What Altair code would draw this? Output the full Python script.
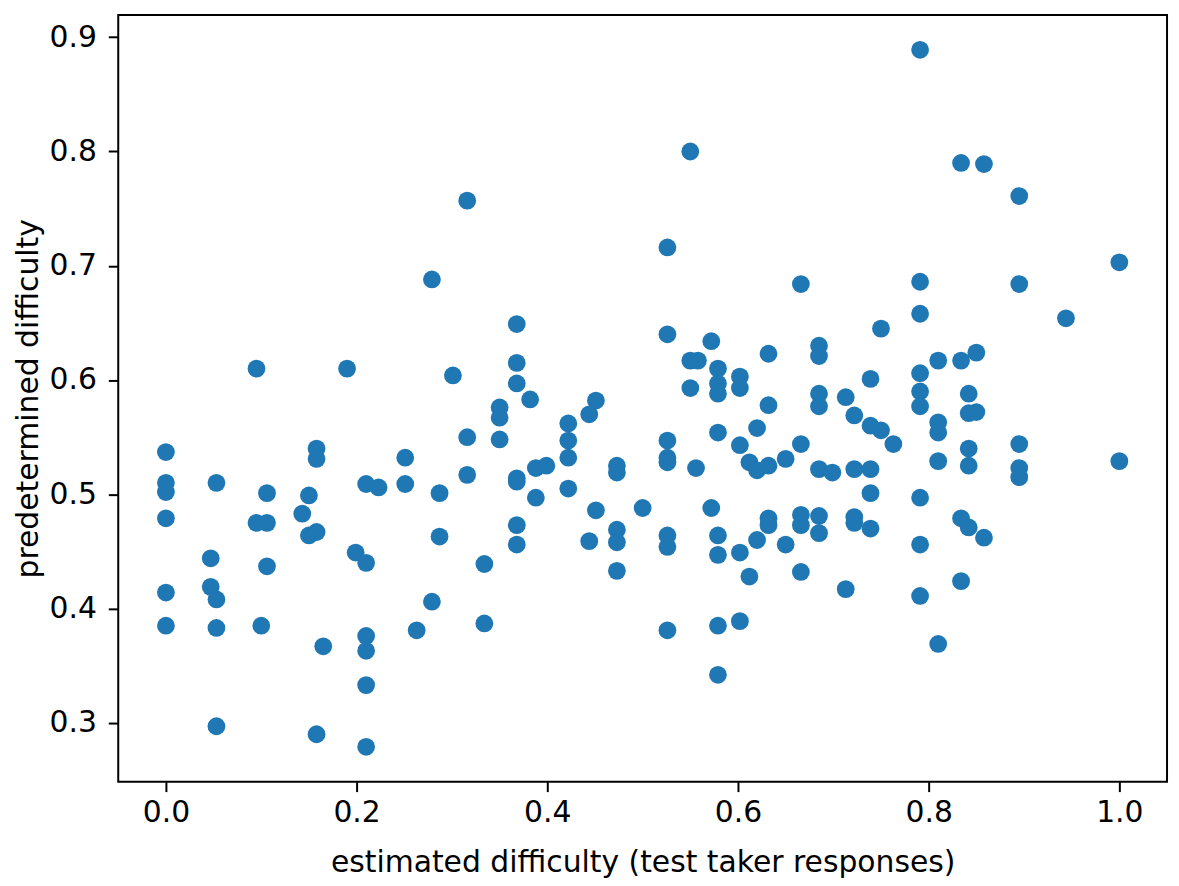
import altair as alt
import pandas as pd

# estimated difficulty (x) grouped with predetermined difficulty values (y)
x_vals = [
    0.0, 0.0, 0.0, 0.0, 0.0, 0.0,
    0.047, 0.047,
    0.053, 0.053, 0.053, 0.053,
    0.095, 0.095,
    0.100,
    0.106, 0.106, 0.106,
    0.143,
    0.150, 0.150,
    0.158, 0.158, 0.158, 0.158,
    0.165,
    0.190,
    0.199,
    0.210, 0.210, 0.210, 0.210, 0.210, 0.210,
    0.223,
    0.251, 0.251,
    0.263,
    0.279, 0.279,
    0.287, 0.287,
    0.301,
    0.316, 0.316, 0.316,
    0.334, 0.334,
    0.350, 0.350, 0.350,
    0.368, 0.368, 0.368, 0.368, 0.368, 0.368, 0.368,
    0.382,
    0.388, 0.388,
    0.399,
    0.422, 0.422, 0.422, 0.422,
    0.444, 0.444,
    0.451, 0.451,
    0.473, 0.473, 0.473, 0.473, 0.473,
    0.500,
    0.526, 0.526, 0.526, 0.526, 0.526, 0.526, 0.526, 0.526,
    0.550, 0.550, 0.550,
    0.558,
    0.556,
    0.572, 0.572,
    0.579, 0.579, 0.579, 0.579, 0.579, 0.579, 0.579, 0.579,
    0.602, 0.602, 0.602, 0.602, 0.602,
    0.612, 0.612,
    0.620, 0.620, 0.620,
    0.632, 0.632, 0.632, 0.632, 0.632,
    0.650, 0.650,
    0.666, 0.666, 0.666, 0.666, 0.666,
    0.685, 0.685, 0.685, 0.685, 0.685, 0.685, 0.685,
    0.699,
    0.713, 0.713,
    0.722, 0.722, 0.722, 0.722,
    0.739, 0.739, 0.739, 0.739, 0.739,
    0.750, 0.750,
    0.763,
    0.791, 0.791, 0.791, 0.791, 0.791, 0.791, 0.791, 0.791, 0.791,
    0.810, 0.810, 0.810, 0.810, 0.810,
    0.834, 0.834, 0.834, 0.834,
    0.842, 0.842, 0.842, 0.842, 0.842,
    0.850, 0.850,
    0.858, 0.858,
    0.895, 0.895, 0.895, 0.895, 0.895,
    0.944,
    1.000, 1.000,
]

y_vals = [
    0.537, 0.510, 0.502, 0.479, 0.414, 0.385,
    0.444, 0.419,
    0.510, 0.408, 0.383, 0.297,
    0.610, 0.475,
    0.385,
    0.501, 0.475, 0.437,
    0.483,
    0.499, 0.464,
    0.540, 0.531, 0.467, 0.290,
    0.367,
    0.610,
    0.449,
    0.509, 0.440, 0.376, 0.363, 0.333, 0.279,
    0.506,
    0.532, 0.509,
    0.381,
    0.688, 0.406,
    0.501, 0.463,
    0.604,
    0.757, 0.550, 0.517,
    0.439, 0.387,
    0.576, 0.567, 0.548,
    0.649, 0.615, 0.597, 0.514, 0.511, 0.473, 0.456,
    0.583,
    0.523, 0.497,
    0.525,
    0.562, 0.547, 0.532, 0.505,
    0.570, 0.459,
    0.582, 0.486,
    0.525, 0.519, 0.469, 0.458, 0.433,
    0.488,
    0.716, 0.640, 0.547, 0.532, 0.528, 0.464, 0.454, 0.381,
    0.800, 0.617, 0.593,
    0.617,
    0.523,
    0.634, 0.488,
    0.610, 0.597, 0.588, 0.554, 0.464, 0.447, 0.385, 0.342,
    0.603, 0.593, 0.543, 0.449, 0.389,
    0.528, 0.428,
    0.558, 0.521, 0.460,
    0.623, 0.578, 0.525, 0.479, 0.473,
    0.531, 0.456,
    0.684, 0.544, 0.482, 0.473, 0.432,
    0.630, 0.621, 0.588, 0.577, 0.522, 0.481, 0.466,
    0.519,
    0.585, 0.417,
    0.569, 0.522, 0.480, 0.475,
    0.601, 0.560, 0.522, 0.501, 0.470,
    0.645, 0.556,
    0.544,
    0.889, 0.686, 0.658, 0.606, 0.590, 0.577, 0.497, 0.456, 0.411,
    0.617, 0.563, 0.554, 0.529, 0.369,
    0.790, 0.617, 0.479, 0.424,
    0.588, 0.571, 0.540, 0.525, 0.471,
    0.624, 0.572,
    0.789, 0.462,
    0.761, 0.684, 0.544, 0.523, 0.515,
    0.654,
    0.703, 0.529,
]

x_ticks = [0.0, 0.2, 0.4, 0.6, 0.8, 1.0]
y_ticks = [0.3, 0.4, 0.5, 0.6, 0.7, 0.8, 0.9]

df = pd.DataFrame({"est": x_vals, "pre": y_vals})

FONT = "DejaVu Sans"

chart = (
    alt.Chart(df)
    .mark_circle(size=320, opacity=1, color="#1f77b4")
    .encode(
        x=alt.X(
            "est:Q",
            title="estimated difficulty (test taker responses)",
            scale=alt.Scale(domain=[-0.05, 1.05], nice=False, zero=False),
            axis=alt.Axis(values=x_ticks, format=".1f", titlePadding=20),
        ),
        y=alt.Y(
            "pre:Q",
            title="predetermined difficulty",
            scale=alt.Scale(domain=[0.2485, 0.9195], nice=False, zero=False),
            axis=alt.Axis(values=y_ticks, format=".1f", titlePadding=6, labelPadding=12),
        ),
    )
    .properties(
        width=1056,
        height=772,
        autosize=alt.AutoSizeParams(type="none"),
        padding={"left": 111, "top": 4, "right": 4, "bottom": 94},
    )
    .configure_view(stroke="black", strokeWidth=2)
    .configure_axis(
        grid=False,
        domain=False,
        ticks=True,
        tickColor="black",
        tickWidth=2,
        tickSize=10,
        labelPadding=6,
        labelFont=FONT,
        labelFontSize=30,
        labelColor="black",
        titleFont=FONT,
        titleFontSize=30,
        titleFontWeight="normal",
        titleColor="black",
    )
)

chart.save("out.html", embed_options={"renderer": "svg", "actions": False})
